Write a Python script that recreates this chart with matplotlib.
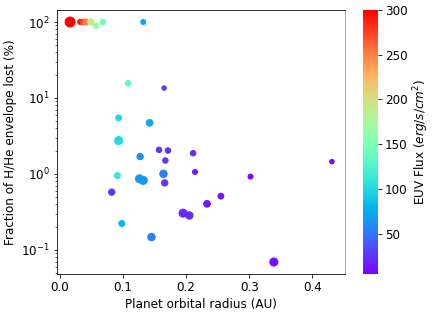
import matplotlib.pyplot as plt

plt.rcParams["font.size"] = 12

# orbital radius (AU), fraction lost (%), EUV flux, marker size
radius = [0.016, 0.032, 0.036, 0.041, 0.049, 0.057, 0.068, 0.132, 0.108, 0.165,
          0.093, 0.142, 0.093, 0.127, 0.157, 0.171, 0.167, 0.091, 0.126, 0.132,
          0.164, 0.166, 0.211, 0.214, 0.082, 0.098, 0.145, 0.195, 0.205, 0.233,
          0.255, 0.302, 0.431, 0.339]
lost = [100, 100, 100, 100, 100, 89, 100, 100, 15.6, 13.5,
        5.45, 4.7, 2.74, 1.69, 2.07, 2.03, 1.5, 0.95, 0.86, 0.82,
        1.0, 0.76, 1.87, 1.06, 0.574, 0.222, 0.147, 0.304, 0.283, 0.403,
        0.509, 0.92, 1.45, 0.069]
flux = [300, 295, 275, 250, 190, 165, 140, 70, 135, 30,
        100, 70, 100, 60, 25, 25, 25, 110, 65, 65,
        55, 25, 20, 15, 25, 80, 55, 20, 20, 15,
        12, 8, 5, 10]
size = [100, 25, 30, 40, 40, 30, 30, 25, 30, 20,
        35, 45, 65, 40, 30, 30, 30, 35, 65, 65,
        55, 40, 30, 25, 40, 35, 55, 65, 55, 45,
        35, 25, 20, 65]

fig = plt.figure(figsize=(6, 314/72), dpi=72)
ax = fig.add_axes([57/432, 40/314, 288/432, 264/314])
cax = fig.add_axes([363/432, 40/314, 15/432, 264/314])

sc = ax.scatter(radius, lost, c=flux, s=size, cmap="rainbow", vmin=5, vmax=300)
ax.set_yscale("log")
ax.set_xlabel("Planet orbital radius (AU)")
ax.set_ylabel("Fraction of H/He envelope lost (%)")
ax.spines["right"].set_color("#999999")

cb = fig.colorbar(sc, cax=cax)
cb.set_label("EUV Flux ($erg/s/cm^2$)")
cb.outline.set_visible(False)

fig.savefig("out.png", dpi=72)
